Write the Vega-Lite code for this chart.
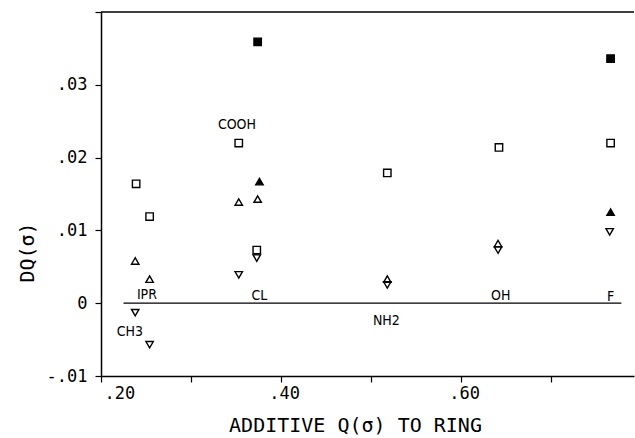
{
  "$schema": "https://vega.github.io/schema/vega-lite/v6.json",
  "width": 533,
  "height": 364,
  "autosize": {"type": "none"},
  "padding": {"left": 101, "top": 12, "right": 1, "bottom": 62},
  "background": "white",
  "config": {
    "view": {"stroke": null},
    "axis": {
      "grid": false,
      "domainColor": "black",
      "tickColor": "black",
      "labelColor": "black",
      "titleColor": "black",
      "labelFont": "DejaVu Sans Mono",
      "titleFont": "DejaVu Sans Mono",
      "labelFontSize": 16,
      "titleFontSize": 20,
      "titleFontWeight": "normal",
      "domainWidth": 1.5,
      "tickWidth": 1.2,
      "tickSize": 6
    }
  },
  "datasets": {
    "points": [
      {"x": 0.239, "y": 0.0164, "shape": "square", "filled": false},
      {"x": 0.254, "y": 0.0119, "shape": "square", "filled": false},
      {"x": 0.353, "y": 0.0220, "shape": "square", "filled": false},
      {"x": 0.373, "y": 0.0073, "shape": "square", "filled": false},
      {"x": 0.518, "y": 0.0179, "shape": "square", "filled": false},
      {"x": 0.642, "y": 0.0214, "shape": "square", "filled": false},
      {"x": 0.766, "y": 0.0220, "shape": "square", "filled": false},
      {"x": 0.374, "y": 0.0359, "shape": "square", "filled": true},
      {"x": 0.766, "y": 0.0336, "shape": "square", "filled": true},
      {"x": 0.238, "y": 0.0058, "shape": "triangle-up", "filled": false},
      {"x": 0.254, "y": 0.0033, "shape": "triangle-up", "filled": false},
      {"x": 0.353, "y": 0.0139, "shape": "triangle-up", "filled": false},
      {"x": 0.374, "y": 0.0143, "shape": "triangle-up", "filled": false},
      {"x": 0.518, "y": 0.0033, "shape": "triangle-up", "filled": false},
      {"x": 0.641, "y": 0.0082, "shape": "triangle-up", "filled": false},
      {"x": 0.376, "y": 0.0167, "shape": "triangle-up", "filled": true},
      {"x": 0.766, "y": 0.0125, "shape": "triangle-up", "filled": true},
      {"x": 0.238, "y": -0.0013, "shape": "triangle-down", "filled": false},
      {"x": 0.254, "y": -0.0057, "shape": "triangle-down", "filled": false},
      {"x": 0.353, "y": 0.0039, "shape": "triangle-down", "filled": false},
      {"x": 0.373, "y": 0.0062, "shape": "triangle-down", "filled": false},
      {"x": 0.518, "y": 0.0025, "shape": "triangle-down", "filled": false},
      {"x": 0.641, "y": 0.0073, "shape": "triangle-down", "filled": false},
      {"x": 0.765, "y": 0.0098, "shape": "triangle-down", "filled": false}
    ],
    "labels": [
      {"x": 0.351, "y": 0.0245, "label": "COOH"},
      {"x": 0.251, "y": 0.0011, "label": "IPR"},
      {"x": 0.232, "y": -0.0039, "label": "CH3"},
      {"x": 0.376, "y": 0.0010, "label": "CL"},
      {"x": 0.517, "y": -0.0024, "label": "NH2"},
      {"x": 0.644, "y": 0.0010, "label": "OH"},
      {"x": 0.766, "y": 0.0009, "label": "F"}
    ],
    "zero": [{"x": 0.225, "x2": 0.778, "y": 0}],
    "top": [{"y": 0.04}]
  },
  "layer": [
    {
      "data": {"name": "zero"},
      "mark": {"type": "rule", "color": "black", "strokeWidth": 1.3},
      "encoding": {
        "x": {
          "field": "x",
          "type": "quantitative",
          "scale": {"domain": [0.2, 0.792], "nice": false, "zero": false},
          "axis": {
            "title": "ADDITIVE Q(σ) TO RING",
            "values": [0.2, 0.3, 0.4, 0.5, 0.6, 0.7],
            "labelExpr": "round(datum.value*10) % 2 == 0 ? '.' + format(round(datum.value*100), '02d') : ''",
            "labelFontSize": 17,
            "labelPadding": 3,
            "labelOffset": 3,
            "titleX": 254,
            "titleY": 49,
            "titleBaseline": "middle",
            "titleAlign": "center"
          }
        },
        "x2": {"field": "x2"},
        "y": {
          "field": "y",
          "type": "quantitative",
          "scale": {"domain": [-0.01, 0.04], "nice": false, "zero": false},
          "axis": {
            "title": "DQ(σ)",
            "values": [-0.01, -0.005, 0, 0.005, 0.01, 0.015, 0.02, 0.025, 0.03, 0.035, 0.04],
            "labelExpr": "abs(datum.value*100 - round(datum.value*100)) > 0.01 || datum.value > 0.035 ? '' : (datum.value == 0 ? '0' : (datum.value < 0 ? '-' : '') + '.' + format(round(abs(datum.value)*100), '02d'))",
            "labelFontSize": 17,
            "labelPadding": 8,
            "labelFlush": false,
            "titleX": -74,
            "titleY": 240,
            "titleAngle": 270,
            "titleBaseline": "middle",
            "titleAlign": "center"
          }
        }
      }
    },
    {
      "data": {"name": "top"},
      "mark": {"type": "rule", "color": "black", "strokeWidth": 1.5},
      "encoding": {"y": {"field": "y", "type": "quantitative"}}
    },
    {
      "data": {"name": "points"},
      "mark": {"type": "point", "filled": true, "stroke": "black", "strokeWidth": 1.4, "size": 55, "opacity": 1},
      "encoding": {
        "x": {"field": "x", "type": "quantitative"},
        "y": {"field": "y", "type": "quantitative"},
        "shape": {
          "field": "shape",
          "type": "nominal",
          "scale": {"domain": ["square", "triangle-up", "triangle-down"], "range": ["square", "triangle-up", "triangle-down"]},
          "legend": null
        },
        "fill": {"condition": {"test": "datum.filled", "value": "black"}, "value": "transparent"}
      }
    },
    {
      "data": {"name": "labels"},
      "mark": {"type": "text", "font": "'DejaVu Sans Condensed', 'Liberation Sans Narrow', 'Liberation Sans'", "fontSize": 14, "baseline": "middle", "align": "center", "color": "black"},
      "encoding": {
        "x": {"field": "x", "type": "quantitative"},
        "y": {"field": "y", "type": "quantitative"},
        "text": {"field": "label", "type": "nominal"}
      }
    }
  ]
}
